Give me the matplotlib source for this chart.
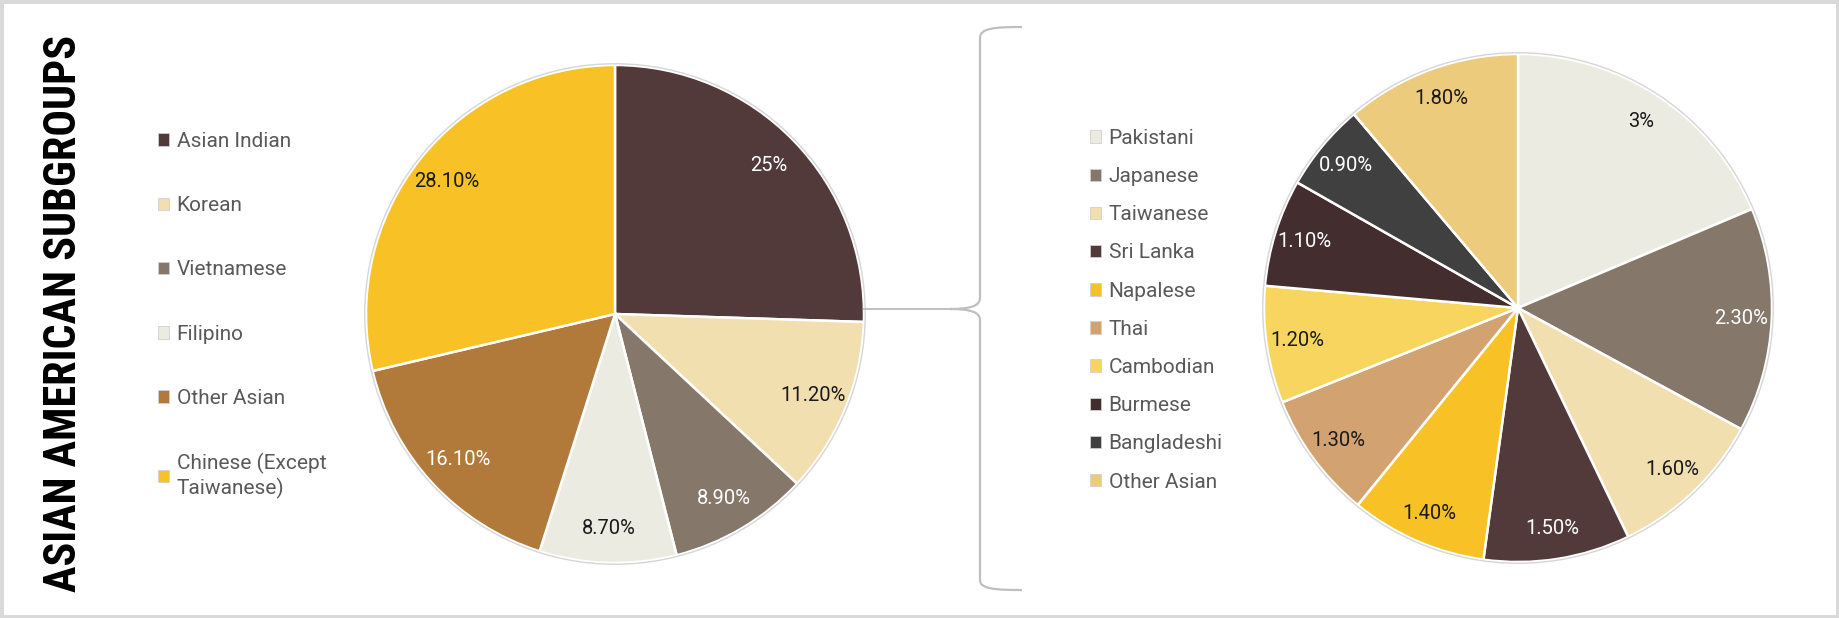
import matplotlib
matplotlib.use("Agg")
import matplotlib.pyplot as plt
import numpy as np
from matplotlib.patches import Rectangle, Circle, PathPatch
from matplotlib.path import Path

plt.rcParams['font.family'] = ['Roboto', 'DejaVu Sans']

W, H = 1839, 618

title = 'ASIAN AMERICAN SUBGROUPS'

# main pie
main_labels = ['Asian Indian', 'Korean', 'Vietnamese', 'Filipino', 'Other Asian',
               'Chinese (Except\nTaiwanese)']
main_values = [25, 11.2, 8.9, 8.7, 16.1, 28.1]
main_text = ['25%', '11.20%', '8.90%', '8.70%', '16.10%', '28.10%']
main_colors = ['#52393a', '#f2dfb0', '#85786b', '#ecebe1', '#b27a3a', '#f8c226']
main_txtcol = ['white', '#1a1a1a', 'white', '#1a1a1a', 'white', '#1a1a1a']

# breakdown pie
sub_labels = ['Pakistani', 'Japanese', 'Taiwanese', 'Sri Lanka', 'Napalese', 'Thai',
              'Cambodian', 'Burmese', 'Bangladeshi', 'Other Asian']
sub_values = [3, 2.3, 1.6, 1.5, 1.4, 1.3, 1.2, 1.1, 0.9, 1.8]
sub_text = ['3%', '2.30%', '1.60%', '1.50%', '1.40%', '1.30%', '1.20%', '1.10%', '0.90%', '1.80%']
sub_colors = ['#ecebe1', '#85786b', '#f2dfb0', '#523a3b', '#f8c226', '#d2a370',
              '#f8d55e', '#432d2e', '#404040', '#eccb7d']
sub_txtcol = ['#1a1a1a', 'white', '#1a1a1a', 'white', '#1a1a1a', '#1a1a1a',
              '#1a1a1a', 'white', 'white', '#1a1a1a']

fig = plt.figure(figsize=(W / 100, H / 100), dpi=100)
fig.patch.set_facecolor('white')


def pie_axes(cx, cy, r):
    return fig.add_axes([(cx - r) / W, 1 - (cy + r) / H, 2 * r / W, 2 * r / H])


def draw_pie(ax, values, colors, texts, txtcols, dist):
    wedges, _ = ax.pie(values, colors=colors, startangle=90, counterclock=False, radius=1,
                       wedgeprops=dict(edgecolor='white', linewidth=1.8))
    for w, t, c in zip(wedges, texts, txtcols):
        ang = np.deg2rad((w.theta1 + w.theta2) / 2)
        ax.text(dist * np.cos(ang), dist * np.sin(ang), t, ha='center', va='center',
                color=c, fontsize=14.5)
    ax.add_patch(Circle((0, 0), 1.005, fill=False, edgecolor='#d6d6d6', lw=1.0, clip_on=False))
    ax.set_xlim(-1, 1)
    ax.set_ylim(-1, 1)
    ax.axis('off')
    return wedges


ax1 = pie_axes(615, 314, 249)
w1 = draw_pie(ax1, main_values, main_colors, main_text, main_txtcol, 0.86)

ax2 = pie_axes(1518, 308, 254)
w2 = draw_pie(ax2, sub_values, sub_colors, sub_text, sub_txtcol, 0.88)

leg1 = fig.legend(w1, main_labels, loc='upper left', bbox_to_anchor=(158 / W, 1 - 132 / H),
                  frameon=False, fontsize=15, labelcolor='#595959', handlelength=0.55,
                  handleheight=0.55, handletextpad=0.35, labelspacing=2.17,
                  borderpad=0, borderaxespad=0)
leg2 = fig.legend(w2, sub_labels, loc='upper left', bbox_to_anchor=(1090 / W, 1 - 129 / H),
                  frameon=False, fontsize=15, labelcolor='#595959', handlelength=0.55,
                  handleheight=0.55, handletextpad=0.35, labelspacing=0.92,
                  borderpad=0, borderaxespad=0)
for lg in (leg1, leg2):
    for h in lg.legend_handles:
        h.set_edgecolor('#d0d0d0')
        h.set_linewidth(0.6)

# bracket + connector, pixel coordinates
ov = fig.add_axes([0, 0, 1, 1])
ov.set_xlim(0, W)
ov.set_ylim(H, 0)
ov.axis('off')
ov.patch.set_alpha(0)
bx, tipx, tipy = 980, 950, 309
verts = [(1022, 27), (995, 27), (bx, 28), (bx, 38), (bx, 298), (bx, 306), (970, tipy), (tipx, tipy),
         (970, tipy), (bx, 312), (bx, 320), (bx, 580), (bx, 589), (995, 590), (1022, 590)]
codes = [Path.MOVETO, Path.CURVE4, Path.CURVE4, Path.CURVE4, Path.LINETO, Path.CURVE4, Path.CURVE4,
         Path.CURVE4, Path.CURVE4, Path.CURVE4, Path.CURVE4, Path.LINETO, Path.CURVE4, Path.CURVE4,
         Path.CURVE4]
ov.add_patch(PathPatch(Path(verts, codes), fill=False, edgecolor='#bfbfbf', lw=1.6))
ov.plot([864, tipx], [tipy, tipy], color='#bfbfbf', lw=1.4)

# title: condensed heavy face if present, sized to span the same height as the reference
tt = fig.text(64 / W, 1 - 314 / H, title, rotation=90, ha='center', va='center',
              family=['Roboto Condensed', 'Roboto'], weight='black', fontsize=30,
              color='black')
fig.canvas.draw()
span = tt.get_window_extent().height
tt.set_fontsize(30 * 557 / span)

fig.patches.append(Rectangle((0, 0), 1, 1, transform=fig.transFigure, fill=False,
                             edgecolor='#d9d9d9', lw=5))

fig.savefig('out.png', dpi=100)
